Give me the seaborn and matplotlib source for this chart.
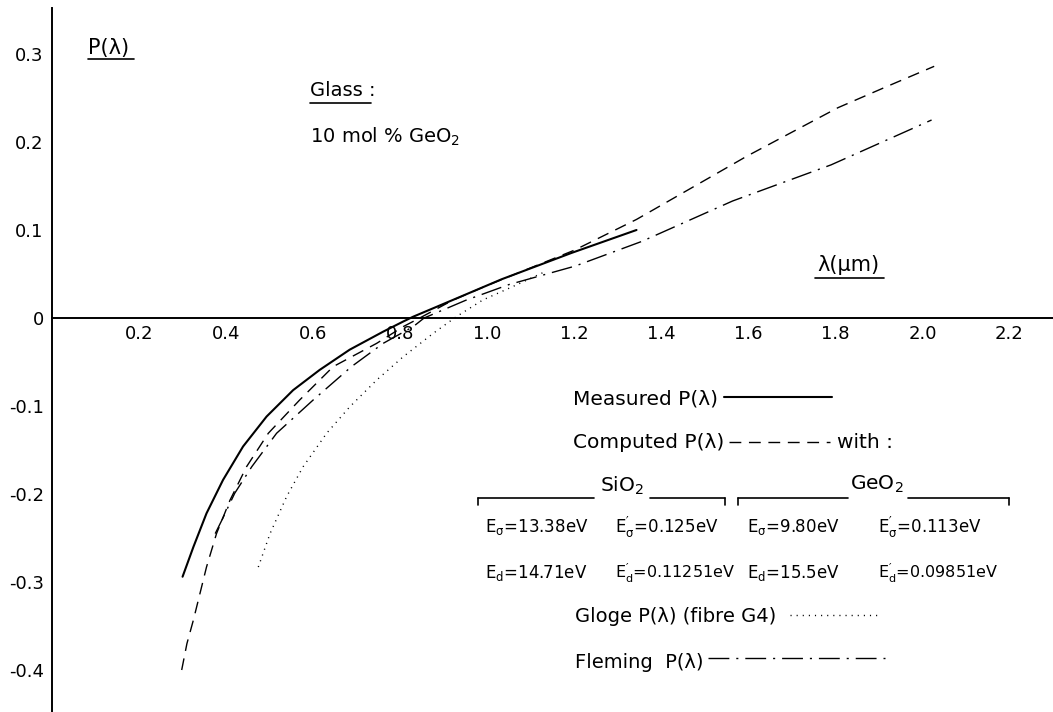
import matplotlib
matplotlib.use("Agg")
import matplotlib.pyplot as plt
from matplotlib.lines import Line2D
import seaborn as sns
import pandas as pd

# ---------------- data ----------------
measured_x = [0.300, 0.325, 0.355, 0.393, 0.439, 0.493, 0.554, 0.615, 0.684, 0.761, 0.807, 0.830,
              0.921, 1.033, 1.194, 1.343]
measured_y = [-0.294, -0.260, -0.222, -0.184, -0.146, -0.112, -0.082, -0.059, -0.036, -0.0155, -0.004, 0.0015,
              0.0205, 0.044, 0.074, 0.100]

computed_x = [0.298, 0.310, 0.325, 0.344, 0.355, 0.378, 0.409, 0.447, 0.497, 0.569, 0.646, 0.746, 0.807,
              0.845, 0.920, 1.000, 1.200, 1.343, 1.597, 1.806, 1.918, 2.027]
computed_y = [-0.400, -0.370, -0.343, -0.305, -0.283, -0.245, -0.207, -0.169, -0.131, -0.0932, -0.0553, -0.0288,
              -0.0098, 0.0, 0.020, 0.037, 0.077, 0.112, 0.184, 0.239, 0.263, 0.286]

gloge_x = [0.474, 0.501, 0.539, 0.577, 0.631, 0.684, 0.746, 0.807, 0.876, 0.929, 0.990, 1.060, 1.130]
gloge_y = [-0.283, -0.245, -0.203, -0.169, -0.131, -0.101, -0.0705, -0.044, -0.0174, 0.0015, 0.0205, 0.036, 0.052]

fleming_x = [0.375, 0.390, 0.420, 0.459, 0.516, 0.600, 0.688, 0.761, 0.830, 0.855, 0.950, 1.050, 1.202,
             1.355, 1.564, 1.790, 2.021]
fleming_y = [-0.245, -0.230, -0.199, -0.169, -0.131, -0.0932, -0.0553, -0.0288, -0.0098, 0.0, 0.020, 0.038, 0.059,
             0.087, 0.133, 0.174, 0.225]

x_ticks = [0.2, 0.4, 0.6, 0.8, 1.0, 1.2, 1.4, 1.6, 1.8, 2.0, 2.2]
x_tick_labels = ["0.2", "0.4", "0.6", "0.8", "1.0", "1.2", "1.4", "1.6", "1.8", "2.0", "2.2"]
y_ticks = [-0.4, -0.3, -0.2, -0.1, 0.0, 0.1, 0.2, 0.3]
y_tick_labels = ["-0.4", "-0.3", "-0.2", "-0.1", "0", "0.1", "0.2", "0.3"]

sio2_params = [r"$\mathregular{E_{\sigma}}$=13.38eV", r"$\mathregular{E^{\prime}_{\sigma}}$=0.125eV",
               r"$\mathregular{E_{d}}$=14.71eV", r"$\mathregular{E^{\prime}_{d}}$=0.11251eV"]
geo2_params = [r"$\mathregular{E_{\sigma}}$=9.80eV", r"$\mathregular{E^{\prime}_{\sigma}}$=0.113eV",
               r"$\mathregular{E_{d}}$=15.5eV", r"$\mathregular{E^{\prime}_{d}}$=0.09851eV"]

# ---------------- style ----------------
sns.set_style("white")
plt.rcParams["font.family"] = ["DejaVu Sans"]
plt.rcParams["lines.scale_dashes"] = False
plt.rcParams["mathtext.fontset"] = "dejavusans"

W, H = 1053, 712
fig = plt.figure(figsize=(W / 100, H / 100), dpi=100)
ax = fig.add_axes([52 / W, 0, 1 - 52 / W, 1 - 8 / H])

STY = {
    "measured": dict(color="black", lw=1.5, ls="-"),
    "computed": dict(color="black", lw=1.0, ls=(0, (8.5, 5.5))),
    "gloge": dict(color="black", lw=1.0, ls=(0, (0.8, 3.6))),
    "fleming": dict(color="black", lw=1.0, ls=(0, (15, 5, 1.5, 5))),
}

series = [("measured", measured_x, measured_y), ("computed", computed_x, computed_y),
          ("gloge", gloge_x, gloge_y), ("fleming", fleming_x, fleming_y)]
for name, xs, ys in series:
    df = pd.DataFrame({"x": xs, "y": ys})
    s = STY[name]
    sns.lineplot(data=df, x="x", y="y", ax=ax, sort=False, estimator=None,
                 color=s["color"], linewidth=s["lw"], linestyle=s["ls"])

ax.set_xlim(0, 2.3)
ax.set_ylim((318 - 712) / 880, (318 - 8) / 880)
ax.set_xlabel("")
ax.set_ylabel("")
ax.grid(False)

for sp in ["top", "right"]:
    ax.spines[sp].set_visible(False)
ax.spines["bottom"].set_position(("data", 0))
for sp in ["left", "bottom"]:
    ax.spines[sp].set_linewidth(1.4)
    ax.spines[sp].set_color("black")

ax.set_xticks(x_ticks)
ax.set_xticklabels(x_tick_labels)
ax.set_yticks(y_ticks)
ax.set_yticklabels(y_tick_labels)
ax.tick_params(axis="x", direction="in", length=9, width=1.2, pad=5, labelsize=13, colors="black")
ax.tick_params(axis="y", direction="in", length=10, width=1.2, pad=6, labelsize=13, colors="black")


# ---------------- annotations (pixel placement helpers) ----------------
def fx(x):
    return x / W


def fy(y):
    return 1 - y / H


def txt(x, y, s, size=14.5, ha="left"):
    fig.text(fx(x), fy(y), s, fontsize=size, ha=ha, va="center", color="black")


def seg(x0, y0, x1, y1, lw=1.2, ls="-"):
    fig.add_artist(Line2D([fx(x0), fx(x1)], [fy(y0), fy(y1)], color="black", lw=lw, ls=ls))


# axis titles
txt(88, 48, "P(λ)", 15)
seg(88, 59, 134, 59)
txt(817, 265, "λ(μm)", 15)
seg(815, 278, 884, 278)

# glass description
txt(310, 90, "Glass :", 14)
seg(310, 103, 371, 103)
txt(310, 137, "10 mol % GeO$_2$", 14)

# legend block
txt(573, 399, "Measured P(λ)")
seg(724, 397, 832, 397, lw=STY["measured"]["lw"], ls=STY["measured"]["ls"])
txt(573, 442, "Computed P(λ)")
seg(729, 442, 830, 442, lw=STY["computed"]["lw"], ls=STY["computed"]["ls"])
txt(837, 442, "with :")

# brackets
txt(622, 486, "SiO$_2$", 14.5, ha="center")
seg(478, 498, 594, 498)
seg(650, 498, 725, 498)
seg(478, 498, 478, 505)
seg(725, 498, 725, 505)
txt(877, 484, "GeO$_2$", 14.5, ha="center")
seg(738, 498, 848, 498)
seg(908, 498, 1009, 498)
seg(738, 498, 738, 505)
seg(1009, 498, 1009, 505)

cols = [485, 615, 747, 878]
rows = [527, 573]
txt(cols[0], rows[0], sio2_params[0], 12)
txt(cols[1], rows[0], sio2_params[1], 12)
txt(cols[0], rows[1], sio2_params[2], 12)
txt(cols[1], rows[1], sio2_params[3], 11.5)
txt(cols[2], rows[0], geo2_params[0], 12)
txt(cols[3], rows[0], geo2_params[1], 12)
txt(cols[2], rows[1], geo2_params[2], 12)
txt(cols[3], rows[1], geo2_params[3], 11.5)

txt(575, 617, "Gloge P(λ) (fibre G4)", 14)
seg(790, 615, 880, 615, lw=STY["gloge"]["lw"], ls=STY["gloge"]["ls"])
txt(575, 662, "Fleming  P(λ)", 14)
seg(708, 658, 885, 658, lw=STY["fleming"]["lw"], ls=STY["fleming"]["ls"])

fig.savefig("out.png", dpi=100)
